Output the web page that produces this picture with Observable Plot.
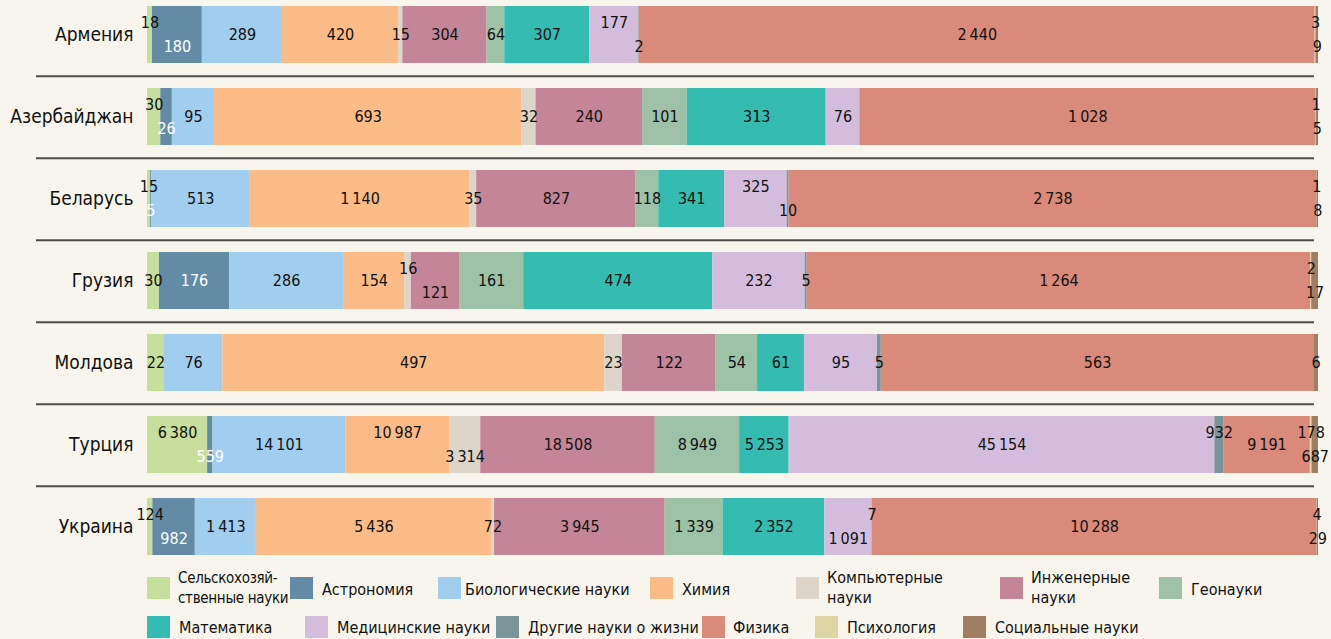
<!DOCTYPE html>
<html lang="ru">
<head>
<meta charset="utf-8">
<script src="https://cdn.jsdelivr.net/npm/d3@7"></script>
<script src="https://cdn.jsdelivr.net/npm/@observablehq/plot@0.6"></script>
<style>
  html, body { margin: 0; padding: 0; background: #f8f6ec; }
  body {
    width: 1331px; height: 639px; overflow: hidden;
    font-family: "DejaVu Sans Condensed", "Liberation Sans Narrow", "Open Sans", sans-serif;
    color: #111;
  }
  #chart svg { display: block; overflow: visible; }
  #chart [aria-label^="y-axis"] text { font-size: 19px; fill: #111; }
  #legend { position: relative; height: 76px; font-size: 16px; }
  #legend .sw { position: absolute; width: 23px; height: 22px; }
  #legend .lb { position: absolute; line-height: 20px; }
  #legend .tight { font-size: 15px; letter-spacing: -0.3px; }
</style>
</head>
<body>
<div id="chart"></div>
<div id="legend"></div>
<script>
// Countries (rows) and scientific fields (stack segments)
const countries = ["Армения", "Азербайджан", "Беларусь", "Грузия", "Молдова", "Турция", "Украина"];
const categories = [
  "Сельскохозяй\u00ADственные науки", "Астрономия", "Биологические науки", "Химия",
  "Компьютерные науки", "Инженерные науки", "Геонауки", "Математика",
  "Медицинские науки", "Другие науки о жизни", "Физика", "Психология", "Социальные науки"
];

// Publication counts per field, one value per country (same order as `countries`)
const agriculture = [18, 30, 15, 30, 22, 6380, 124];
const astronomy   = [180, 26, 5, 176, 0, 559, 982];
const biology     = [289, 95, 513, 286, 76, 14101, 1413];
const chemistry   = [420, 693, 1140, 154, 497, 10987, 5436];
const computing   = [15, 32, 35, 16, 23, 3314, 72];
const engineering = [304, 240, 827, 121, 122, 18508, 3945];
const geoscience  = [64, 101, 118, 161, 54, 8949, 1339];
const mathematics = [307, 313, 341, 474, 61, 5253, 2352];
const medicine    = [177, 76, 325, 232, 95, 45154, 1091];
const otherLife   = [2, 0, 10, 5, 5, 932, 7];
const physics     = [2440, 1028, 2738, 1264, 563, 9191, 10288];
const psychology  = [3, 1, 1, 2, 0, 178, 4];
const social      = [9, 5, 8, 17, 6, 687, 29];

const series = [agriculture, astronomy, biology, chemistry, computing, engineering,
  geoscience, mathematics, medicine, otherLife, physics, psychology, social];

// Field colours
const palette = ["#c6df9c", "#648ba6", "#a1cdef", "#fbbb86", "#ddd5c7", "#c48599",
  "#9ec2a6", "#33bcaf", "#d4bddc", "#7a959a", "#d98a7a", "#ddd5a2", "#9f7f63"];

const [AGRI, ASTRO, BIO, CHEM, COMP, ENG, GEO, MATH, MED, OTHER, PHYS, PSYCH, SOC] = categories;

// Narrow segments get their labels lifted above or dropped below the bar's centre line
const labelShift = [
  {[AGRI]: "up", [ASTRO]: "down", [MED]: "up", [OTHER]: "down", [PSYCH]: "up", [SOC]: "down"},
  {[AGRI]: "up", [ASTRO]: "down", [PSYCH]: "up", [SOC]: "down"},
  {[AGRI]: "up", [ASTRO]: "down", [MED]: "up", [OTHER]: "down", [PSYCH]: "up", [SOC]: "down"},
  {[COMP]: "up", [ENG]: "down", [PSYCH]: "up", [SOC]: "down"},
  {},
  {[AGRI]: "up", [ASTRO]: "down", [CHEM]: "up", [COMP]: "down", [OTHER]: "up", [PSYCH]: "up", [SOC]: "down"},
  {[AGRI]: "up", [ASTRO]: "down", [OTHER]: "up", [MED]: "down", [PSYCH]: "up", [SOC]: "down"}
];

const rows = countries.flatMap((country, i) =>
  categories.map((category, j) => ({
    country, category, value: series[j][i],
    shift: labelShift[i][category] || "mid"
  }))
);

const fmt = d3.formatLocale({decimal: ",", thousands: "\u2009", grouping: [3], currency: ["", ""]}).format(",d");

// Frame geometry
const W = 1331, H = 563, ML = 147, MR = 13, MT = 1, MB = 2;
const padIn = 0.3, padOut = 0.05;
const step = (H - MT - MB) / (countries.length - padIn + 2 * padOut);
const frac = (px) => (px - ML) / (W - ML - MR);

const stackOpts = {x: "value", y: "country", z: "category", offset: "normalize"};
const labelMarks = [];
for (const pos of ["mid", "up", "down"]) {
  for (const white of [false, true]) {
    labelMarks.push(Plot.text(rows, Plot.stackX({
      ...stackOpts,
      text: (d) => (d.value > 0 && d.shift === pos && (d.category === ASTRO) === white) ? fmt(d.value) : "",
      fill: white ? "#ffffff" : "#111111",
      fontSize: 16,
      dy: pos === "up" ? -12 : pos === "down" ? 12 : 0
    })));
  }
}

const chart = Plot.plot({
  width: W, height: H,
  marginLeft: ML, marginRight: MR, marginTop: MT, marginBottom: MB,
  style: {
    background: "#f8f6ec",
    fontFamily: '"DejaVu Sans Condensed", "Liberation Sans Narrow", "Open Sans", sans-serif',
    fontSize: "16px",
    color: "#111"
  },
  x: {domain: [0, 1], axis: null},
  y: {domain: countries, paddingInner: padIn, paddingOuter: padOut, tickSize: 0, tickPadding: 14, label: null},
  color: {domain: categories, range: palette},
  marks: [
    Plot.ruleY(countries.slice(0, -1), {
      y: (d) => d, dy: step / 2, x1: frac(36), x2: frac(1314),
      stroke: "#4e4c47", strokeWidth: 2
    }),
    Plot.barX(rows, Plot.stackX({...stackOpts, fill: "category"})),
    ...labelMarks
  ]
});
document.getElementById("chart").append(chart);

// Legend below the chart
const legendLayout = [
  {sw: 147, tx: 178, row: 0, wrap: 124, tight: true}, {sw: 290, tx: 322, row: 0}, {sw: 438, tx: 465, row: 0},
  {sw: 650, tx: 682, row: 0}, {sw: 796, tx: 827, row: 0, wrap: 132}, {sw: 1000, tx: 1031, row: 0, wrap: 112},
  {sw: 1159, tx: 1191, row: 0},
  {sw: 147, tx: 179, row: 1}, {sw: 305, tx: 337, row: 1}, {sw: 496, tx: 528, row: 1},
  {sw: 702, tx: 733, row: 1}, {sw: 815, tx: 847, row: 1}, {sw: 963, tx: 995, row: 1}
];
const legend = d3.select("#legend");
categories.forEach((name, k) => {
  const L = legendLayout[k];
  const swTop = L.row === 0 ? 14 : 53;
  legend.append("div").attr("class", "sw")
    .style("left", L.sw + "px").style("top", swTop + "px")
    .style("background", palette[k]);
  legend.append("div").attr("class", L.tight ? "lb tight" : "lb")
    .style("left", L.tx + "px")
    .style("top", (L.row === 0 ? (L.wrap ? 5 : 17) : 55) + "px")
    .style("width", L.wrap ? L.wrap + "px" : null)
    .style("white-space", L.wrap ? "normal" : "nowrap")
    .text(name);
});
</script>
</body>
</html>
